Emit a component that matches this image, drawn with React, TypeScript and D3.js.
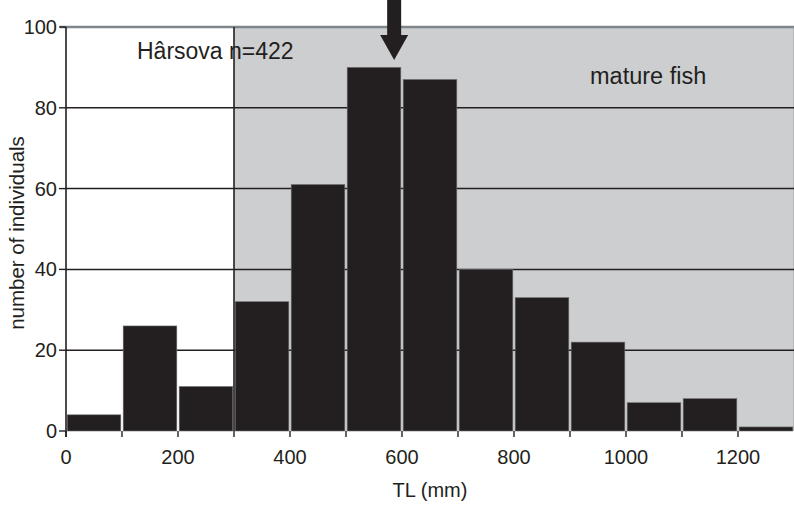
import * as d3 from 'd3';
import React from 'react';

// histogram bins (TL, mm) and counts
const binStarts = [0, 100, 200, 300, 400, 500, 600, 700, 800, 900, 1000, 1100, 1200];
const binWidth = 100;
const counts = [4, 26, 11, 32, 61, 90, 87, 40, 33, 22, 7, 8, 1];
const xTicks = [0, 200, 400, 600, 800, 1000, 1200];
const xMinorTicks = [100, 300, 500, 700, 900, 1100];
const yTicks = [0, 20, 40, 60, 80, 100];
const matureFrom = 300;
const arrowAt = 586;

const margin = { top: 27, right: 0, bottom: 74, left: 66 };
const W = 794;
const H = 505;
const font = '"Liberation Sans", Arial, Helvetica, sans-serif';
const ink = '#231f20';

const App = () => {
  const x = d3.scaleLinear().domain([0, 1300]).range([margin.left, W - margin.right]);
  const y = d3.scaleLinear().domain([0, 100]).range([H - margin.bottom, margin.top]);
  const y0 = y(0);

  return (
    <svg
      width={W}
      height={H}
      style={{ position: 'absolute', left: 0, top: 0, background: '#fff' }}
      fontFamily={font}
    >
      {/* mature fish zone */}
      <rect
        x={x(matureFrom)}
        y={y(100)}
        width={x(1300) - x(matureFrom)}
        height={y0 - y(100)}
        fill="#cdced0"
      />
      <line x1={x(1300) - 0.5} x2={x(1300) - 0.5} y1={y(100)} y2={y0} stroke="#b5b7ba" strokeWidth={1} />

      {/* grid */}
      {yTicks.filter((t) => t > 0 && t < 100).map((t) => (
        <line key={t} x1={x(0)} x2={x(1300)} y1={y(t)} y2={y(t)} stroke={ink} strokeWidth={1.5} />
      ))}
      <line x1={x(0) - 6} x2={x(1300)} y1={y(100)} y2={y(100)} stroke="#7f868b" strokeWidth={2.5} />

      {/* bars */}
      {counts.map((c, i) => (
        <rect
          key={i}
          x={x(binStarts[i]) + 1.2}
          y={y(c)}
          width={x(binStarts[i] + binWidth) - x(binStarts[i]) - 2.4}
          height={y0 - y(c)}
          fill={ink}
          stroke="#6b6b6b"
          strokeWidth={0.6}
        />
      ))}

      {/* vertical lines */}
      <line x1={x(0)} x2={x(0)} y1={y(100)} y2={y0 + 6} stroke={ink} strokeWidth={1.6} />
      <line x1={x(matureFrom)} x2={x(matureFrom)} y1={y(100)} y2={y0} stroke={ink} strokeWidth={1.6} />

      {/* y axis */}
      {yTicks.map((t) => (
        <g key={t}>
          <line x1={x(0) - 7} x2={x(0)} y1={y(t)} y2={y(t)} stroke={ink} strokeWidth={1.4} />
          <text x={x(0) - 9} y={y(t) + 7} textAnchor="end" fontSize={20} fill={ink}>
            {t}
          </text>
        </g>
      ))}

      {/* x axis */}
      {[...xTicks, ...xMinorTicks].map((t) => (
        <line key={t} x1={x(t)} x2={x(t)} y1={y0} y2={y0 + 6} stroke={ink} strokeWidth={1.4} />
      ))}
      {xTicks.map((t) => (
        <text key={t} x={x(t)} y={y0 + 33} textAnchor="middle" fontSize={20} fill={ink}>
          {t}
        </text>
      ))}

      <text x={x(650)} y={H - 8} textAnchor="middle" fontSize={20} fill={ink}>
        TL (mm)
      </text>
      <text
        transform={`translate(24, ${(y(0) + y(100)) / 2 + 4}) rotate(-90)`}
        textAnchor="middle"
        fontSize={20.5}
        fill={ink}
      >
        number of individuals
      </text>

      {/* annotations */}
      <text x={137} y={59} fontSize={23} fill={ink}>
        Hârsova n=422
      </text>
      <text x={590} y={84} fontSize={23.5} fill={ink}>
        mature fish
      </text>

      {/* arrow */}
      <path
        d={`M${x(arrowAt) - 7},0 L${x(arrowAt) + 7},0 L${x(arrowAt) + 7},35 L${x(arrowAt) + 14},35 L${x(arrowAt)},60 L${x(arrowAt) - 14},35 L${x(arrowAt) - 7},35 Z`}
        fill={ink}
      />
    </svg>
  );
};

export default App;
